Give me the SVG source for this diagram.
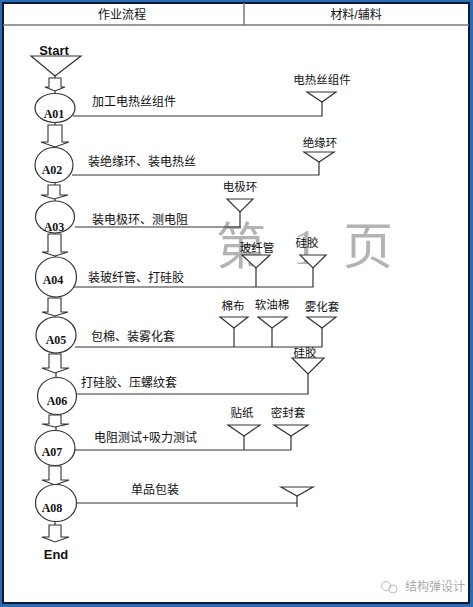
<svg xmlns="http://www.w3.org/2000/svg" width="473" height="607" viewBox="0 0 473 607">
<defs>
<style>
.frame{fill:#fff;stroke:#0b1b36;stroke-width:2}
.hdr{stroke:#777;stroke-width:1.5;fill:none}
.ln{stroke:#333;stroke-width:1.2;fill:none}
.tri{fill:#fff;stroke:#333;stroke-width:1.2}
.ell{fill:#fff;stroke:#333;stroke-width:1.2}
.blk{fill:#fff;stroke:#333;stroke-width:1.1}
.cn{font-family:"Liberation Sans","Noto Sans CJK SC",sans-serif;font-size:12px;fill:#111}
.lb{font-family:"Liberation Sans","Noto Sans CJK SC",sans-serif;font-size:11.5px;fill:#111;text-anchor:middle}
.id{font-family:"Liberation Serif",serif;font-size:12px;font-weight:bold;fill:#111;text-anchor:middle}
.se{font-family:"Liberation Sans",sans-serif;font-size:13px;font-weight:900;fill:#111;text-anchor:middle}
.wm{font-family:"Liberation Serif","Noto Sans CJK SC",serif;font-size:50px;fill:#999;fill-opacity:0.75}
</style>
</defs>
<rect x="0" y="0" width="473" height="607" fill="#2b6cb0"/>
<rect class="frame" x="3" y="3" width="466" height="600"/>
<line class="hdr" x1="3" y1="25" x2="469" y2="25"/>
<line class="hdr" x1="244" y1="3" x2="244" y2="25"/>
<text class="cn" x="122" y="19" text-anchor="middle">作业流程</text>
<text class="cn" x="356" y="19" text-anchor="middle">材料/辅料</text>

<g id="watermark">
<text class="wm" y="264"><tspan x="216">第</tspan><tspan x="293">1</tspan><tspan x="343">页</tspan></text>
</g>

<g id="connectors">
<line class="ln" x1="55" y1="76" x2="55" y2="95"/>
<line class="ln" x1="55" y1="122" x2="55" y2="148"/>
<line class="ln" x1="55" y1="182" x2="55" y2="201"/>
<line class="ln" x1="55" y1="232" x2="55" y2="258"/>
<line class="ln" x1="55" y1="296" x2="55" y2="318"/>
<line class="ln" x1="56" y1="352" x2="56" y2="378"/>
<line class="ln" x1="56" y1="414" x2="56" y2="431"/>
<line class="ln" x1="55" y1="465" x2="55" y2="485"/>
<line class="ln" x1="55" y1="521" x2="55" y2="526"/>
<polygon class="blk" points="49,78 61,78 61,87 65,87 55,91 45,87 49,87"/>
<polygon class="blk" points="48,125 62,125 62,142 69,142 55,147 41,142 48,142"/>
<polygon class="blk" points="48,185 60,185 60,195 68,195 54,199 41,195 48,195"/>
<polygon class="blk" points="48,234 61,234 61,252 68,252 55,256 42,252 48,252"/>
<polygon class="blk" points="48,298 61,298 61,312 68,312 55,316 42,312 48,312"/>
<polygon class="blk" points="49,354 61,354 61,368 69,368 55,373 42,368 49,368"/>
<polygon class="blk" points="49,415 61,415 61,424 69,424 55,427 42,424 49,424"/>
<polygon class="blk" points="49,466 61,466 61,480 69,480 55,485 42,480 49,480"/>
<polygon class="blk" points="49,525 61,525 61,537 69,537 55,542 42,537 49,537"/>
<polyline class="ln" points="73,116 322,116 322,102"/>
<polyline class="ln" points="72,175 319,175 319,162"/>
<polyline class="ln" points="75,227 240,227 240,212"/>
<polyline class="ln" points="73,287 313,287 313,268"/>
<line class="ln" x1="256" y1="287" x2="256" y2="268"/>
<polyline class="ln" points="75,347 322,347 322,328"/>
<line class="ln" x1="234" y1="347" x2="234" y2="328"/>
<line class="ln" x1="272" y1="347" x2="272" y2="328"/>
<polyline class="ln" points="76,394 308,394 308,374"/>
<polyline class="ln" points="75,450 291,450 291,436"/>
<line class="ln" x1="244" y1="450" x2="244" y2="436"/>
<line class="ln" x1="77" y1="503" x2="297" y2="503"/>
<line class="ln" x1="297" y1="507" x2="297" y2="496"/>
</g>

<g id="start">
<text class="se" x="54" y="55">Start</text>
<polygon class="tri" points="31,56 81,56 55,76"/>
</g>
<g id="a01">
<ellipse class="ell" cx="55" cy="108" rx="20" ry="14.5"/>
<text class="id" x="54" y="118">A01</text>
<text class="cn" x="92" y="106">加工电热丝组件</text>
</g>
<g id="a02">
<ellipse class="ell" cx="54" cy="165" rx="19" ry="17.5"/>
<text class="id" x="52" y="174">A02</text>
<text class="cn" x="88" y="166">装绝缘环、装电热丝</text>
</g>
<g id="a03">
<ellipse class="ell" cx="55" cy="217" rx="19.5" ry="16"/>
<text class="id" x="54" y="231">A03</text>
<text class="cn" x="92" y="224">装电极环、测电阻</text>
</g>
<g id="a04">
<ellipse class="ell" cx="56" cy="277" rx="20.5" ry="20"/>
<text class="id" x="53" y="284">A04</text>
<text class="cn" x="88" y="282">装玻纤管、打硅胶</text>
</g>
<g id="a05">
<ellipse class="ell" cx="56" cy="335" rx="20" ry="18"/>
<text class="id" x="56" y="344">A05</text>
<text class="cn" x="91" y="341">包棉、装雾化套</text>
</g>
<g id="a06">
<ellipse class="ell" cx="57" cy="396" rx="19.5" ry="18.5"/>
<text class="id" x="57" y="405">A06</text>
<text class="cn" x="81" y="387">打硅胶、压螺纹套</text>
</g>
<g id="a07">
<ellipse class="ell" cx="55" cy="448" rx="20" ry="17.5"/>
<text class="id" x="52" y="456">A07</text>
<text class="cn" x="94" y="442">电阻测试+吸力测试</text>
</g>
<g id="a08">
<ellipse class="ell" cx="56" cy="503" rx="20.5" ry="18.5"/>
<text class="id" x="52" y="512">A08</text>
<text class="cn" x="131" y="494">单品包装</text>
</g>
<g id="end">
<text class="se" x="56" y="559">End</text>
</g>

<g id="m-heater">
<polygon class="tri" points="307,92 336,92 322,102"/>
<text class="lb" x="322" y="84">电热丝组件</text>
</g>
<g id="m-insul">
<polygon class="tri" points="304,152 334,152 319,162"/>
<text class="lb" x="320" y="147">绝缘环</text>
</g>
<g id="m-electrode">
<polygon class="tri" points="227,199 253,199 240,212"/>
<text class="lb" x="240" y="191">电极环</text>
</g>
<g id="m-fiber">
<polygon class="tri" points="242,255 270,255 256,268"/>
<text class="lb" x="257" y="252">玻纤管</text>
</g>
<g id="m-silica1">
<polygon class="tri" points="300,255 326,255 313,268"/>
<text class="lb" x="307" y="247">硅胶</text>
</g>
<g id="m-cotton">
<polygon class="tri" points="220,317 248,317 234,328"/>
<text class="lb" x="233" y="310">棉布</text>
</g>
<g id="m-softcotton">
<polygon class="tri" points="258,317 287,317 272,328"/>
<text class="lb" x="272" y="309">软油棉</text>
</g>
<g id="m-sleeve">
<polygon class="tri" points="307,317 336,317 322,328"/>
<text class="lb" x="322" y="311">雾化套</text>
</g>
<g id="m-silica2">
<text class="lb" x="305" y="357">硅胶</text>
<polygon class="tri" points="292,358 324,358 308,374"/>
</g>
<g id="m-sticker">
<polygon class="tri" points="228,425 260,425 244,436"/>
<text class="lb" x="242" y="417">贴纸</text>
</g>
<g id="m-seal">
<polygon class="tri" points="274,425 308,425 291,436"/>
<text class="lb" x="288" y="417">密封套</text>
</g>
<g id="m-pack">
<polygon class="tri" points="281,487 313,487 297,496"/>
</g>

<g id="brand">
<circle cx="386" cy="586" r="4.5" fill="none" stroke="#bbb" stroke-width="1"/>
<circle cx="393" cy="589" r="4" fill="none" stroke="#bbb" stroke-width="1"/>
<text x="405" y="591" font-family="Liberation Sans,'Noto Sans CJK SC',sans-serif" font-size="12" fill="#aaa">结构弹设计</text>
</g>
</svg>
